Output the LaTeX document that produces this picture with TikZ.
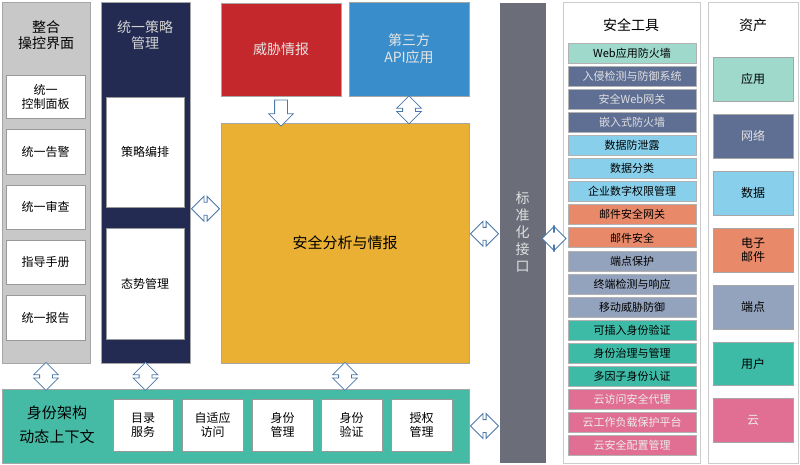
\documentclass[tikz,border=0pt]{standalone}
\usepackage{fontspec}
\setmainfont{Noto Sans CJK SC}
\usetikzlibrary{shapes.arrows,calc}
\definecolor{cgray}{HTML}{C8C8C8}
\definecolor{cnavy}{HTML}{232B52}
\definecolor{cred}{HTML}{C5282C}
\definecolor{cblue}{HTML}{3A8DCB}
\definecolor{corange}{HTML}{E9B034}
\definecolor{cbar}{HTML}{6B6E78}
\definecolor{cteal}{HTML}{45BBA6}
\definecolor{aapp}{HTML}{9ED9CC}
\definecolor{anet}{HTML}{5F6F94}
\definecolor{adata}{HTML}{87CFEB}
\definecolor{amail}{HTML}{E8896A}
\definecolor{aend}{HTML}{94A3BD}
\definecolor{auser}{HTML}{3DBBA6}
\definecolor{acloud}{HTML}{E06F93}
\definecolor{arrowc}{HTML}{4A78A8}
\newcommand\bx[7]{\node[#6, minimum width={#4-#2}, minimum height={#5-#3}] (#1) at ({(#2+#4)/2},{(#3+#5)/2}) {#7};}
\tikzset{
  base/.style={draw=gray!70, line width=0.8pt, inner sep=1pt, align=center, font=\fontsize{12}{14}\selectfont},
  wbox/.style={base, fill=white, draw=gray!80},
  dar/.style={shape=double arrow, draw=arrowc, fill=white, line width=0.8pt, inner xsep=0pt, inner ysep=6pt, double arrow head extend=6pt, minimum height=28pt},
  sar/.style={shape=single arrow, draw=arrowc, fill=white, line width=0.8pt, inner xsep=0pt, inner ysep=6pt, single arrow head extend=6pt, minimum height=26pt},
  tool/.style={base, draw=gray!60, font=\fontsize{11}{13}\selectfont},
  title/.style={align=center, font=\fontsize{14}{16}\selectfont}
}
\begin{document}
\begin{tikzpicture}[x=1pt,y=-1pt]
\useasboundingbox (0,0) rectangle (800,465);
% left column
\bx{lc}{2}{2}{90}{363}{base, fill=cgray}{}
\node[title] (lct) at (46,35) {整合\\操控界面};
\bx{l1}{6}{75}{85}{118}{wbox}{统一\\控制面板}
\bx{l2}{6}{129}{85}{174}{wbox}{统一告警}
\bx{l3}{6}{185}{85}{229}{wbox}{统一审查}
\bx{l4}{6}{240}{85}{284}{wbox}{指导手册}
\bx{l5}{6}{295}{85}{340}{wbox}{统一报告}
% navy column
\bx{nc}{101}{2}{190}{363}{base, fill=cnavy}{}
\node[title, text=gray!35] (nct) at (145,35) {统一策略\\管理};
\bx{n1}{106}{97}{184}{207}{wbox}{策略编排}
\bx{n2}{106}{228}{184}{339}{wbox}{态势管理}
% top boxes
\bx{ti}{221}{3}{341}{96}{base, fill=cred, text=gray!20, font=\fontsize{14}{16}\selectfont}{威胁情报}
\bx{api}{349}{2}{469}{96}{base, fill=cblue, text=gray!20, font=\fontsize{14}{17}\selectfont}{第三方\\API应用}
\bx{sa}{221}{123}{469}{363}{base, fill=corange, font=\fontsize{15}{17}\selectfont}{安全分析与情报}
% bar
\bx{bar}{500}{3}{545}{462}{base, fill=cbar, draw=cbar}{}
\node[font=\fontsize{14}{17}\selectfont, text=gray!25, align=center] (bart) at (bar.center) {标\\准\\化\\接\\口};
% bottom identity
\bx{id}{2}{389}{469}{463}{base, fill=cteal}{}
\node[title, font=\fontsize{15}{24}\selectfont] (idt) at (57,425) {身份架构\\动态上下文};
\bx{i1}{113}{399}{173}{451}{wbox}{目录\\服务}
\bx{i2}{182}{399}{243}{451}{wbox}{自适应\\访问}
\bx{i3}{252}{399}{313}{451}{wbox}{身份\\管理}
\bx{i4}{321}{399}{382}{451}{wbox}{身份\\验证}
\bx{i5}{391}{399}{452}{451}{wbox}{授权\\管理}
% tools
\bx{tc}{563}{2}{700}{463}{base, fill=white, draw=gray!40}{}
\node[title] (tct) at (631,25) {安全工具};
\foreach \t/\c/\tc [count=\i from 0] in {
 Web应用防火墙/aapp/black, 入侵检测与防御系统/anet/gray!25, 安全Web网关/anet/gray!25, 嵌入式防火墙/anet/gray!25,
 数据防泄露/adata/black, 数据分类/adata/black, 企业数字权限管理/adata/black,
 邮件安全网关/amail/black, 邮件安全/amail/black,
 端点保护/aend/black, 终端检测与响应/aend/black, 移动威胁防御/aend/black,
 可插入身份验证/auser/black, 身份治理与管理/auser/black, 多因子身份认证/auser/black,
 云访问安全代理/acloud/gray!15, 云工作负载保护平台/acloud/gray!15, 云安全配置管理/acloud/gray!15}{
  \pgfmathsetmacro\ya{43+\i*23.1}
  \pgfmathsetmacro\yb{\ya+20}
  \bx{t\i}{568}{\ya}{696}{\yb}{tool, fill=\c, text=\tc}{\t}
}
% assets
\bx{ac}{708}{2}{798}{463}{base, fill=white, draw=gray!40}{}
\node[title] (act) at (753,25) {资产};
\bx{a1}{713}{57}{793}{101}{base, fill=aapp}{应用}
\bx{a2}{713}{114}{793}{158}{base, fill=anet, text=gray!25}{网络}
\bx{a3}{713}{171}{793}{215}{base, fill=adata}{数据}
\bx{a4}{713}{228}{793}{272}{base, fill=amail}{电子\\邮件}
\bx{a5}{713}{285}{793}{329}{base, fill=aend}{端点}
\bx{a6}{713}{342}{793}{385}{base, fill=auser}{用户}
\bx{a7}{713}{398}{793}{442}{base, fill=acloud, text=gray!15}{云}
% arrows
\node[sar, rotate=-90] (ar1) at ($(ti.south)+(0,13.5)$) {};
\node[dar, rotate=90] (ar2) at ($(api.south)+(0,13.5)$) {};
\node[dar] (ar3) at ($(nc.east)!0.5!(sa.west)+(0,-4)$) {};
\node[dar] (ar4) at ($(sa.east)!0.5!(bar.west)+(0,-4)$) {};
\node[dar, minimum height=24pt] (ar5) at ($(bar.east)!0.5!(tc.west)+(0,6)$) {};
\node[dar] (ar6) at ($(id.east)!0.5!(bar.west |- id.east)$) {};
\node[dar, rotate=90] (ar7) at ($(lc.south)+(0,13)$) {};
\node[dar, rotate=90] (ar8) at ($(nc.south)+(0,13)$) {};
\node[dar, rotate=90] (ar9) at ($(sa.south)+(0,13)$) {};
\end{tikzpicture}
\end{document}
